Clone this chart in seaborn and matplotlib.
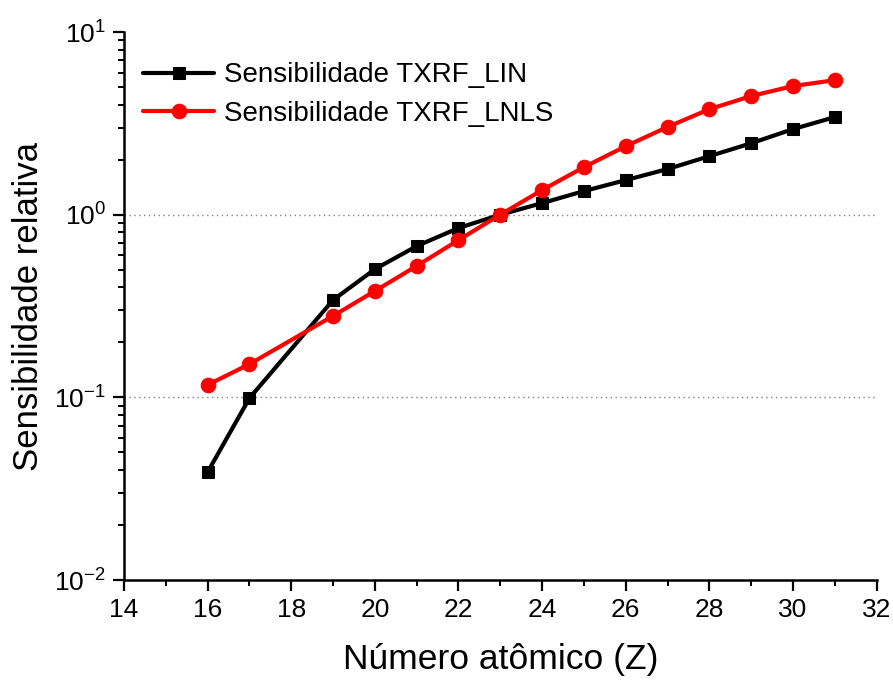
import numpy as np
import pandas as pd
import seaborn as sns
import matplotlib
matplotlib.use("Agg")
import matplotlib.pyplot as plt
from matplotlib.ticker import LogLocator, FixedLocator, NullFormatter

z_values = [16, 17, 19, 20, 21, 22, 23, 24, 25, 26, 27, 28, 29, 30, 31]
sens_lin = [0.039, 0.099, 0.341, 0.503, 0.673, 0.845, 1.0, 1.157, 1.346,
            1.546, 1.777, 2.09, 2.46, 2.94, 3.42]
sens_lnls = [0.117, 0.152, 0.279, 0.382, 0.524, 0.726, 1.0, 1.364, 1.82,
             2.37, 3.02, 3.78, 4.46, 5.06, 5.45]
label_lin = "Sensibilidade TXRF_LIN"
label_lnls = "Sensibilidade TXRF_LNLS"
x_ticks = [14, 16, 18, 20, 22, 24, 26, 28, 30, 32]

sns.set_theme(style="ticks")
plt.rcParams["font.family"] = ["Liberation Sans", "DejaVu Sans"]
plt.rcParams["text.color"] = "black"
plt.rcParams["axes.labelcolor"] = "black"
plt.rcParams["xtick.color"] = "black"
plt.rcParams["ytick.color"] = "black"

df_lin = pd.DataFrame({"Z": z_values, "S": sens_lin})
df_lnls = pd.DataFrame({"Z": z_values, "S": sens_lnls})

fig = plt.figure(figsize=(8.93, 6.81), dpi=100)
ax = fig.add_axes([0.1389, 0.1483, 0.9816 - 0.1389, 0.953 - 0.1483])

sns.lineplot(data=df_lin, x="Z", y="S", ax=ax, color="black", marker="s",
             markersize=9, linewidth=3.0, markeredgecolor="black",
             label=label_lin, zorder=3)
sns.lineplot(data=df_lnls, x="Z", y="S", ax=ax, color="red", marker="o",
             markersize=10.5, linewidth=3.0, markeredgecolor="red",
             label=label_lnls, zorder=3)

ax.set_yscale("log")
ax.set_xlim(14, 32)
ax.set_ylim(1e-2, 1e1)
ax.xaxis.set_major_locator(FixedLocator(x_ticks))
ax.xaxis.set_minor_locator(FixedLocator([15, 17, 19, 21, 23, 25, 27, 29, 31]))
ax.yaxis.set_major_locator(LogLocator(base=10, numticks=10))
ax.yaxis.set_minor_locator(LogLocator(base=10, subs=np.arange(2, 10), numticks=20))
ax.yaxis.set_minor_formatter(NullFormatter())

for yv in [0.1, 1.0]:
    ax.axhline(yv, color="#808080", linestyle=(0, (1, 2.5)), linewidth=1.0, zorder=1)

for side in ["top", "right"]:
    ax.spines[side].set_visible(False)
for side in ["left", "bottom"]:
    ax.spines[side].set_linewidth(1.8)
    ax.spines[side].set_color("black")

ax.tick_params(axis="both", which="major", direction="out", length=8, width=1.6,
               labelsize=19, colors="black", pad=5)
ax.tick_params(axis="both", which="minor", direction="out", length=4.5, width=1.4,
               colors="black")

ax.set_xlabel("Número atômico (Z)", fontsize=25.5, labelpad=15)
ax.set_ylabel("Sensibilidade relativa", fontsize=25, labelpad=7)

ax.legend(loc="upper left", frameon=False, fontsize=20, handlelength=2.55,
          handletextpad=0.35, borderaxespad=0.3, labelspacing=0.45,
          bbox_to_anchor=(0.0, 0.98))

fig.savefig("out.png", dpi=100)
